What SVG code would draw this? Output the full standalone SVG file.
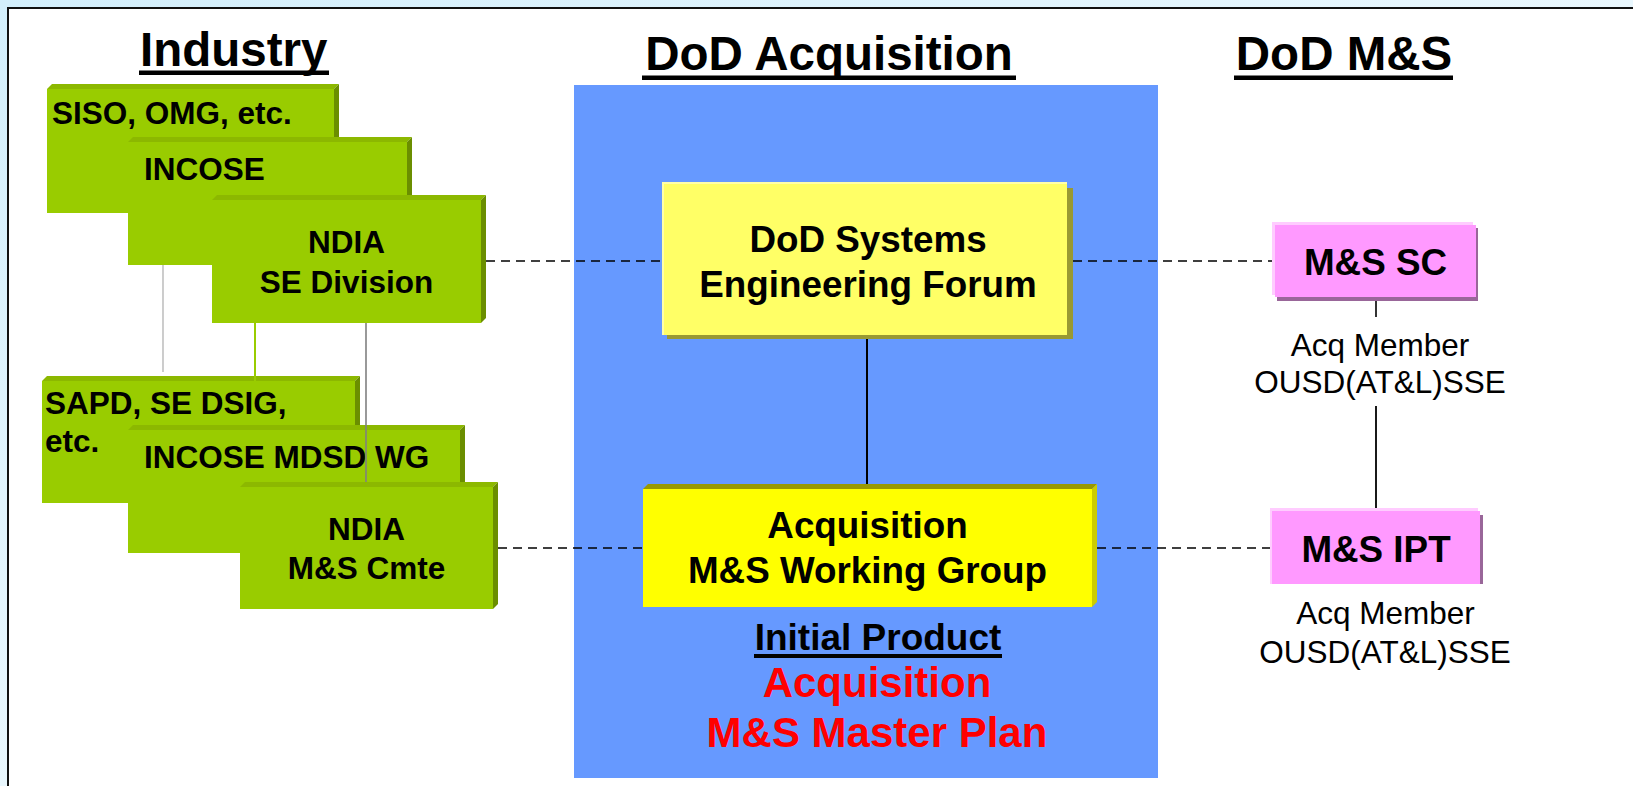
<svg xmlns="http://www.w3.org/2000/svg" width="1633" height="786" viewBox="0 0 1633 786">
<defs>
<linearGradient id="bg" x1="0" y1="0" x2="1" y2="1">
<stop offset="0" stop-color="#d3effc"/>
<stop offset="1" stop-color="#ffffff"/>
</linearGradient>
<style>
text{font-family:"Liberation Sans",Arial,sans-serif;fill:#000;}
.title{font-size:47.5px;font-weight:bold;}
.glab{font-size:31.5px;font-weight:bold;}
.ylab{font-size:36.8px;font-weight:bold;}
.prod{font-size:37px;font-weight:bold;}
.red{font-size:42px;font-weight:bold;fill:#ff0000;}
.mem{font-size:31.5px;}
.mid{text-anchor:middle;}
.gf{fill:#99cc00;}
.gt{fill:#8cb800;}
.gs{fill:#6b8e00;}
.dash{stroke:#000;stroke-width:1.6;stroke-dasharray:9 6;fill:none;}
.solid{stroke:#000;stroke-width:2;fill:none;}
</style>
</defs>
<rect x="0" y="0" width="1633" height="786" fill="url(#bg)"/>
<rect x="8" y="8" width="1640" height="800" fill="#ffffff" stroke="#111" stroke-width="2"/>

<g id="titles">
<text class="title" x="140" y="66">Industry</text>
<rect x="139" y="70.5" width="190" height="4.5"/>
<text class="title mid" x="829" y="70">DoD Acquisition</text>
<rect x="642" y="75.5" width="374" height="4.5"/>
<text class="title mid" x="1344" y="70">DoD M&amp;S</text>
<rect x="1234" y="75.5" width="219" height="4.5"/>
</g>

<g id="industry-upper">
<g id="siso">
<polygon class="gt" points="47,89 52,84 339,84 334,89"/>
<polygon class="gs" points="334,89 339,84 339,208 334,213"/>
<rect class="gf" x="47" y="89" width="287" height="124"/>
<text class="glab" x="52" y="124">SISO, OMG, etc.</text>
</g>
<g id="incose">
<polygon class="gt" points="128,142 133,137 412,137 407,142"/>
<polygon class="gs" points="407,142 412,137 412,260 407,265"/>
<rect class="gf" x="128" y="142" width="279" height="123"/>
<text class="glab" x="144" y="180">INCOSE</text>
</g>
<g id="ndia-se">
<polygon class="gt" points="212,200 217,195 486,195 481,200"/>
<polygon class="gs" points="481,200 486,195 486,318 481,323"/>
<rect class="gf" x="212" y="200" width="269" height="123"/>
<text class="glab mid" x="346.5" y="253">NDIA</text>
<text class="glab mid" x="346.5" y="293">SE Division</text>
</g>
</g>

<g id="industry-lower">
<g id="sapd">
<polygon class="gt" points="42,381 47,376 360,376 355,381"/>
<polygon class="gs" points="355,381 360,376 360,498 355,503"/>
<rect class="gf" x="42" y="381" width="313" height="122"/>
<text class="glab" x="45" y="414">SAPD, SE DSIG,</text>
<text class="glab" x="45" y="452">etc.</text>
</g>
<g id="incose-mdsd">
<polygon class="gt" points="128,430 133,425 465,425 460,430"/>
<polygon class="gs" points="460,430 465,425 465,548 460,553"/>
<rect class="gf" x="128" y="430" width="332" height="123"/>
<text class="glab" x="144" y="468">INCOSE MDSD WG</text>
</g>
</g>

<g id="dod-acq-area">
<rect x="574" y="85" width="584" height="693" fill="#6699ff"/>
</g>

<g id="connectors">
<line x1="163" y1="265" x2="163" y2="372" stroke="#c0c0c0" stroke-width="1.6"/>
<line x1="255" y1="323" x2="255" y2="381" stroke="#99cc00" stroke-width="2"/>
<line x1="366" y1="323" x2="366" y2="485" stroke="#808080" stroke-width="1.6"/>
<line class="dash" x1="486" y1="261" x2="662" y2="261"/>
<line class="dash" x1="1073" y1="261" x2="1272" y2="261"/>
<line class="dash" x1="498" y1="548" x2="643" y2="548"/>
<line class="dash" x1="1097" y1="548" x2="1270" y2="548"/>
<line class="solid" x1="867" y1="339" x2="867" y2="489"/>
<line x1="1376" y1="297" x2="1376" y2="317" stroke="#000" stroke-width="1.6"/>
<line x1="1376" y1="406" x2="1376" y2="511" stroke="#000" stroke-width="1.8"/>
</g>

<g id="ndia-ms">
<polygon class="gt" points="240,487 245,482 498,482 493,487"/>
<polygon class="gs" points="493,487 498,482 498,604 493,609"/>
<rect class="gf" x="240" y="487" width="253" height="122"/>
<text class="glab mid" x="366.5" y="540">NDIA</text>
<text class="glab mid" x="366.5" y="579">M&amp;S Cmte</text>
</g>

<g id="se-forum">
<rect x="667" y="188" width="406" height="151" fill="#999933"/>
<rect x="662" y="182" width="405" height="153" fill="#ffffa8"/>
<rect x="664" y="184" width="403" height="151" fill="#ffff66"/>
<text class="ylab mid" x="868" y="252">DoD Systems</text>
<text class="ylab mid" x="868" y="297">Engineering Forum</text>
</g>

<g id="acq-wg">
<polygon points="643,489 648,484 1097,484 1092,489" fill="#999900"/>
<polygon points="1092,489 1097,484 1097,602 1092,607" fill="#cccc00"/>
<rect x="643" y="489" width="449" height="118" fill="#ffff00"/>
<text class="ylab mid" x="867.5" y="538">Acquisition</text>
<text class="ylab mid" x="867.5" y="583">M&amp;S Working Group</text>
</g>

<g id="product">
<text class="prod mid" x="878" y="650">Initial Product</text>
<rect x="754" y="654" width="248" height="4"/>
<text class="red mid" x="877" y="697">Acquisition</text>
<text class="red mid" x="877" y="747">M&amp;S Master Plan</text>
</g>

<g id="ms-sc">
<rect x="1277" y="228" width="201" height="73" fill="#996699"/>
<rect x="1272" y="222" width="201" height="73" fill="#ffccff"/>
<rect x="1275" y="225" width="201" height="72" fill="#ff99ff"/>
<text class="ylab mid" x="1375.5" y="275">M&amp;S SC</text>
<text class="mem mid" x="1380" y="356">Acq Member</text>
<text class="mem mid" x="1380" y="393">OUSD(AT&amp;L)SSE</text>
</g>

<g id="ms-ipt">
<rect x="1275" y="515" width="208" height="69" fill="#996699"/>
<rect x="1270" y="508" width="208" height="76" fill="#ffccff"/>
<rect x="1272" y="511" width="208" height="73" fill="#ff99ff"/>
<text class="ylab mid" x="1376" y="562">M&amp;S IPT</text>
<text class="mem mid" x="1385.5" y="624">Acq Member</text>
<text class="mem mid" x="1385" y="663">OUSD(AT&amp;L)SSE</text>
</g>
</svg>
